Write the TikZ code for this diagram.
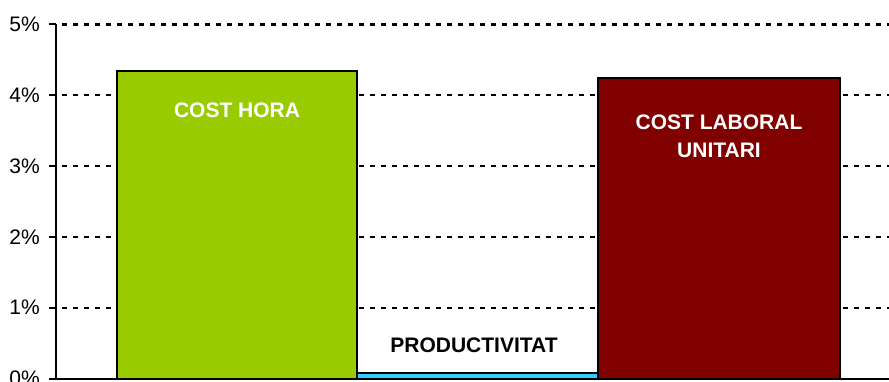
\documentclass[tikz,border=0pt]{standalone}
\usepackage{fontspec}
\setmainfont{Liberation Sans}
\definecolor{barGreen}{RGB}{153,204,0}
\definecolor{barRed}{RGB}{128,0,0}
\definecolor{barBlue}{RGB}{51,204,255}
\tikzset{
    bar/.style={draw=black, line width=1.8pt},
    barlabel/.style={font=\fontsize{21}{28}\selectfont\bfseries, align=center},
    ticklabel/.style={font=\fontsize{21}{22}\selectfont, anchor=east, inner sep=0pt}
}
\begin{document}
\begin{tikzpicture}[x=1pt, y=1pt]
    \useasboundingbox (0,0) rectangle (889,381);
    \begin{scope}[yshift=2.5pt, y=70.8pt]
        % grid and ticks
        \foreach \v in {1,...,5} {
            \draw[line width=2.2pt, dash pattern=on 5pt off 6pt] (62,\v) -- (889,\v);
        }
        \foreach \v in {0,...,5} {
            \draw[line width=2pt] (49,\v) -- (56,\v);
            \node[ticklabel] (t\v) at (40,\v) {\v\%};
        }

        % bars
        \draw[bar, fill=barGreen] (117,0) rectangle (357,4.34);
        \draw[bar, fill=barBlue] (357,0) rectangle (598,0.08);
        \draw[bar, fill=barRed] (598,0) rectangle (840,4.24);

        \node[barlabel, text=white] (hora) at (237,3.79) {COST HORA};
        \node[barlabel, text=white] (clu) at (719,3.42) {COST LABORAL\\UNITARI};
        \node[barlabel, text=black] (prod) at (474,0.47) {PRODUCTIVITAT};

        % axes
        \draw[line width=2pt] (56,5) -- (56,0) -- (889,0);
    \end{scope}
\end{tikzpicture}
\end{document}
